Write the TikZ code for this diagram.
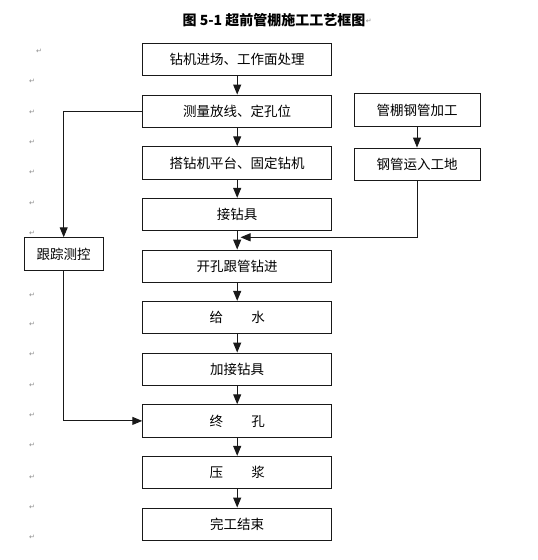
\documentclass[tikz,border=0pt]{standalone}
\usepackage{fontspec}
\newfontfamily\cjk{Noto Sans CJK SC}
\newfontfamily\symf{DejaVu Sans}
\usetikzlibrary{arrows.meta}
\begin{document}
\begin{tikzpicture}[x=1pt,y=-1pt,
  box/.style={draw=black!90,line width=0.9pt,inner sep=0pt,minimum height=32.4pt,font=\cjk\fontsize{13.5}{14}\selectfont},
  mainbox/.style={box,minimum width=189pt},
  sidebox/.style={box,minimum width=126pt},
  leftbox/.style={box,minimum width=79.3pt},
  conn/.style={draw=black!90,line width=1pt},
  arr/.style={conn,-{Triangle[length=10pt,width=8pt]}},
  ret/.style={font=\symf\fontsize{7}{7}\selectfont,text=black!45,inner sep=0pt}]
\useasboundingbox (0,0) rectangle (538,560);
\fill[white] (0,0) rectangle (538,560);
% title
\node[font=\cjk\bfseries\fontsize{14}{15}\selectfont,inner sep=0pt] (title) at (274,20) {图 5-1 超前管棚施工工艺框图};
\node[ret,anchor=west] (rt) at ([yshift=-1pt]title.east) {↵};
% main boxes
\node[mainbox] (b1) at (237.2,59.5) {钻机进场、工作面处理};
\node[mainbox] (b2) at (237.2,111.2) {测量放线、定孔位};
\node[mainbox] (b3) at (237.2,162.9) {搭钻机平台、固定钻机};
\node[mainbox] (b4) at (237.2,214.5) {接钻具};
\node[mainbox] (b5) at (237.2,266.2) {开孔跟管钻进};
\node[mainbox] (b6) at (237.2,317.5) {给\hspace{2.1em}水};
\node[mainbox] (b7) at (237.2,369.2) {加接钻具};
\node[mainbox] (b8) at (237.2,420.9) {终\hspace{2.1em}孔};
\node[mainbox] (b9) at (237.2,472.5) {压\hspace{2.1em}浆};
\node[mainbox] (b10) at (237.2,524.2) {完工结束};
% side boxes
\node[sidebox] (r1) at (417,109.9) {管棚钢管加工};
\node[sidebox] (r2) at (417,164.2) {钢管运入工地};
\node[leftbox] (l1) at (63.7,253.9) {跟踪测控};
% main arrows
\foreach \a/\b in {b1/b2,b2/b3,b3/b4,b4/b5,b5/b6,b6/b7,b7/b8,b8/b9,b9/b10}
  \draw[arr] (\a) -- (\b);
\draw[arr] (r1) -- (r2);
% right merge
\coordinate (m) at (240.5,237.3);
\draw[arr] (r2.south) |- (m);
% left loop
\draw[arr] (b2.west) -| (l1.north);
\draw[arr] (l1.south) |- (b8.west);
% paragraph marks
\node[ret] (p0) at (39,51) {↵};
\foreach \yy [count=\i] in {81,112,142,172,203,233,295,324,354,385,415,445,477,507,537}
  \node[ret] (p\i) at (32,\yy) {↵};
\end{tikzpicture}
\end{document}
